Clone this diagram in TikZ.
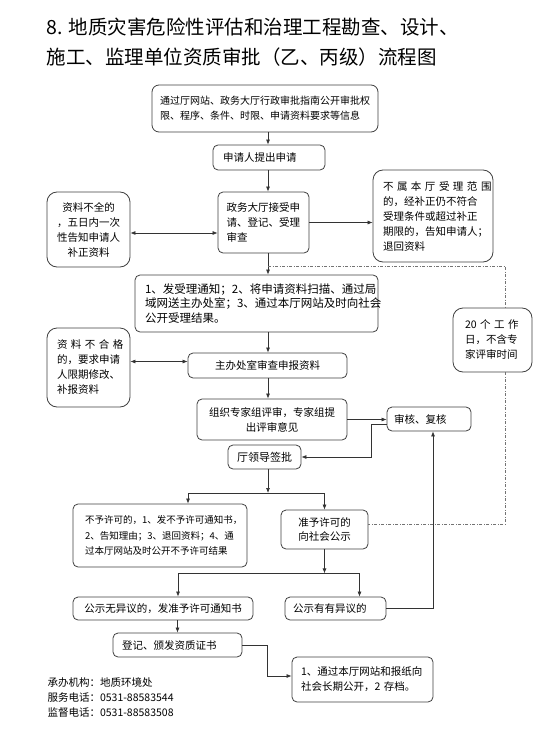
\documentclass[tikz,border=0pt]{standalone}
\usepackage{fontspec}
\setmainfont{Noto Sans CJK SC}
\usetikzlibrary{arrows.meta}
\begin{document}
\begin{tikzpicture}[x=1pt,y=-1pt,
  box/.style={draw=black!75,line width=0.8pt,rounded corners=5pt,inner sep=0pt,fill=white,
    font=\fontsize{10.5}{15}\selectfont,align=left},
  softbox/.style={box,rounded corners=10pt},
  flow/.style={draw=black!80,line width=0.7pt,-{Latex[length=5pt,width=4pt]}},
  both/.style={flow,{Latex[length=5pt,width=4pt]}-{Latex[length=5pt,width=4pt]}},
  track/.style={draw=black!55,line width=0.7pt,dash pattern=on 3pt off 1.5pt on 1pt off 1.5pt}]
\useasboundingbox (0,0) rectangle (554,730);
\node[anchor=west,align=left,font=\fontsize{19.5}{30}\selectfont] (title) at (43,42)
  {8. 地质灾害危险性评估和治理工程勘查、设计、\\施工、监理单位资质审批（乙、丙级）流程图};
\coordinate (spine) at (268,0);
\node[box,rounded corners=7pt,minimum width=226pt,minimum height=47pt,text width=210pt,
  font=\fontsize{10}{15}\selectfont] (info) at (265,108.5)
  {通过厅网站、政务大厅行政审批指南公开审批权\\限、程序、条件、时限、申请资料要求等信息};
\node[box,minimum width=112pt,minimum height=25pt,text width=92pt] (apply) at (269,157.5) {申请人提出申请};
\node[box,minimum width=91pt,minimum height=61pt,text width=74pt] (hall) at (263.5,222.5)
  {政务大厅接受申\\请、登记、受理\\审查};
\node[softbox,minimum width=83pt,minimum height=75pt,text width=70pt,align=center] (incomplete) at (88.5,229.5)
  {资料不全的\\，五日内一次\\性告知申请人\\补正资料};
\node[softbox,minimum width=120pt,minimum height=92pt,text width=100pt] (reject) at (433,216)
  {\makebox[94.5pt][s]{不 属 本 厅 受 理 范 围}\\的，经补正仍不符合\\受理条件或超过补正\\期限的，告知申请人；\\退回资料};
\node[box,minimum width=243pt,minimum height=57pt,text width=223pt,
  font=\fontsize{11.5}{14.5}\selectfont] (notify) at (256.5,303.5)
  {1、发受理通知；2、将申请资料扫描、通过局\\域网送主办处室；3、通过本厅网站及时向社会\\公开受理结果。};
\node[box,minimum width=159pt,minimum height=25pt,align=center] (review) at (267.5,365.5) {主办处室审查申报资料};
\node[softbox,minimum width=83pt,minimum height=79pt,text width=63pt] (unfit) at (88.5,367.5)
  {\makebox[63pt][s]{资 料 不 合 格}\\的，要求申请\\人限期修改、\\补报资料};
\node[box,minimum width=150pt,minimum height=41pt,align=center] (expert) at (272,419.5)
  {组织专家组评审，专家组提\\出评审意见};
\node[box,minimum width=84pt,minimum height=24pt,text width=70pt] (check) at (429,419) {审核、复核};
\node[box,minimum width=73pt,minimum height=24pt,align=center,font=\fontsize{11}{15}\selectfont] (sign) at (264.5,457) {厅领导签批};
\node[box,minimum width=174pt,minimum height=63pt,text width=150pt,
  font=\fontsize{9.5}{15.5}\selectfont] (deny) at (160,535.5)
  {不予许可的，1、发不予许可通知书，\\2、告知理由；3、退回资料；4、通\\过本厅网站及时公开不予许可结果};
\node[box,minimum width=87pt,minimum height=39pt,align=center,
  font=\fontsize{10.5}{13.5}\selectfont] (grant) at (324.5,529.5) {准予许可的\\向社会公示};
\node[box,minimum width=180pt,minimum height=23pt,align=center] (noobj) at (163,608.5) {公示无异议的，发准予许可通知书};
\node[box,minimum width=101pt,minimum height=23pt,text width=85pt] (objection) at (335.5,608.5) {公示有有异议的};
\node[box,minimum width=129pt,minimum height=24pt,text width=111pt] (cert) at (177.5,645) {登记、颁发资质证书};
\node[box,minimum width=141pt,minimum height=45pt,text width=123pt] (publish) at (362.5,679.5)
  {1、通过本厅网站和报纸向\\社会长期公开，2 存档。};
\node[softbox,minimum width=79pt,minimum height=64pt,text width=55pt] (days) at (492.5,340)
  {\makebox[52.5pt][s]{20 个 工 作}\\日，不含专\\家评审时间};
\node[anchor=west,align=left,font=\fontsize{10.5}{15}\selectfont] (contact) at (44,697)
  {承办机构：地质环境处\\服务电话：0531-88583544\\监督电话：0531-88583508};
\draw[flow] (info.south -| spine) -- (apply.north -| spine);
\draw[flow] (apply.south -| spine) -- (hall.north -| spine);
\draw[both] ([yshift=-3.5pt]incomplete.east) -- ([yshift=-3.5pt]incomplete.east -| hall.west);
\draw[flow] (hall.east) -- (hall.east -| reject.west);
\draw[flow] (hall.south -| spine) -- (notify.north -| spine);
\coordinate (dd) at (505,266);
\coordinate (gx) at ([yshift=5pt]grant.east);
\draw[track] (spine |- dd) -- (dd) -- (dd |- days.north);
\draw[track] (dd |- days.south) -- (dd |- gx) -- (gx);
\draw[flow] (notify.south -| spine) -- (review.north -| spine);
\draw[both] ([yshift=4pt]unfit.east |- review.west) -- ([yshift=4pt]review.west);
\draw[flow] (review.south -| spine) -- (expert.north -| spine);
\draw[flow] (expert.east) -- (expert.east -| check.west);
\draw[flow] ([yshift=-5pt]check.west) -- ++(-15,0) |- (sign.east);
\coordinate (fork) at (268,493);
\draw[flow] (sign.south -| fork) -- (fork);
\draw[flow] (fork) -| ([xshift=28pt]deny.north);
\draw[flow] (fork) -| (grant.north);
\path (grant.south) ++(0,24) coordinate (merge);
\draw[flow] (grant.south) -- (merge);
\draw[flow] (merge) -| ([xshift=15pt]noobj.north);
\draw[flow] (merge) -| ([xshift=24pt]objection.north);
\draw[flow] (objection.east) -| ([xshift=4pt]check.south);
\draw[flow] (noobj.south -| cert.north) -- (cert.north);
\draw[flow] (cert.east) -- ++(25,0) |- ([yshift=3.5pt]publish.west);
\end{tikzpicture}
\end{document}
